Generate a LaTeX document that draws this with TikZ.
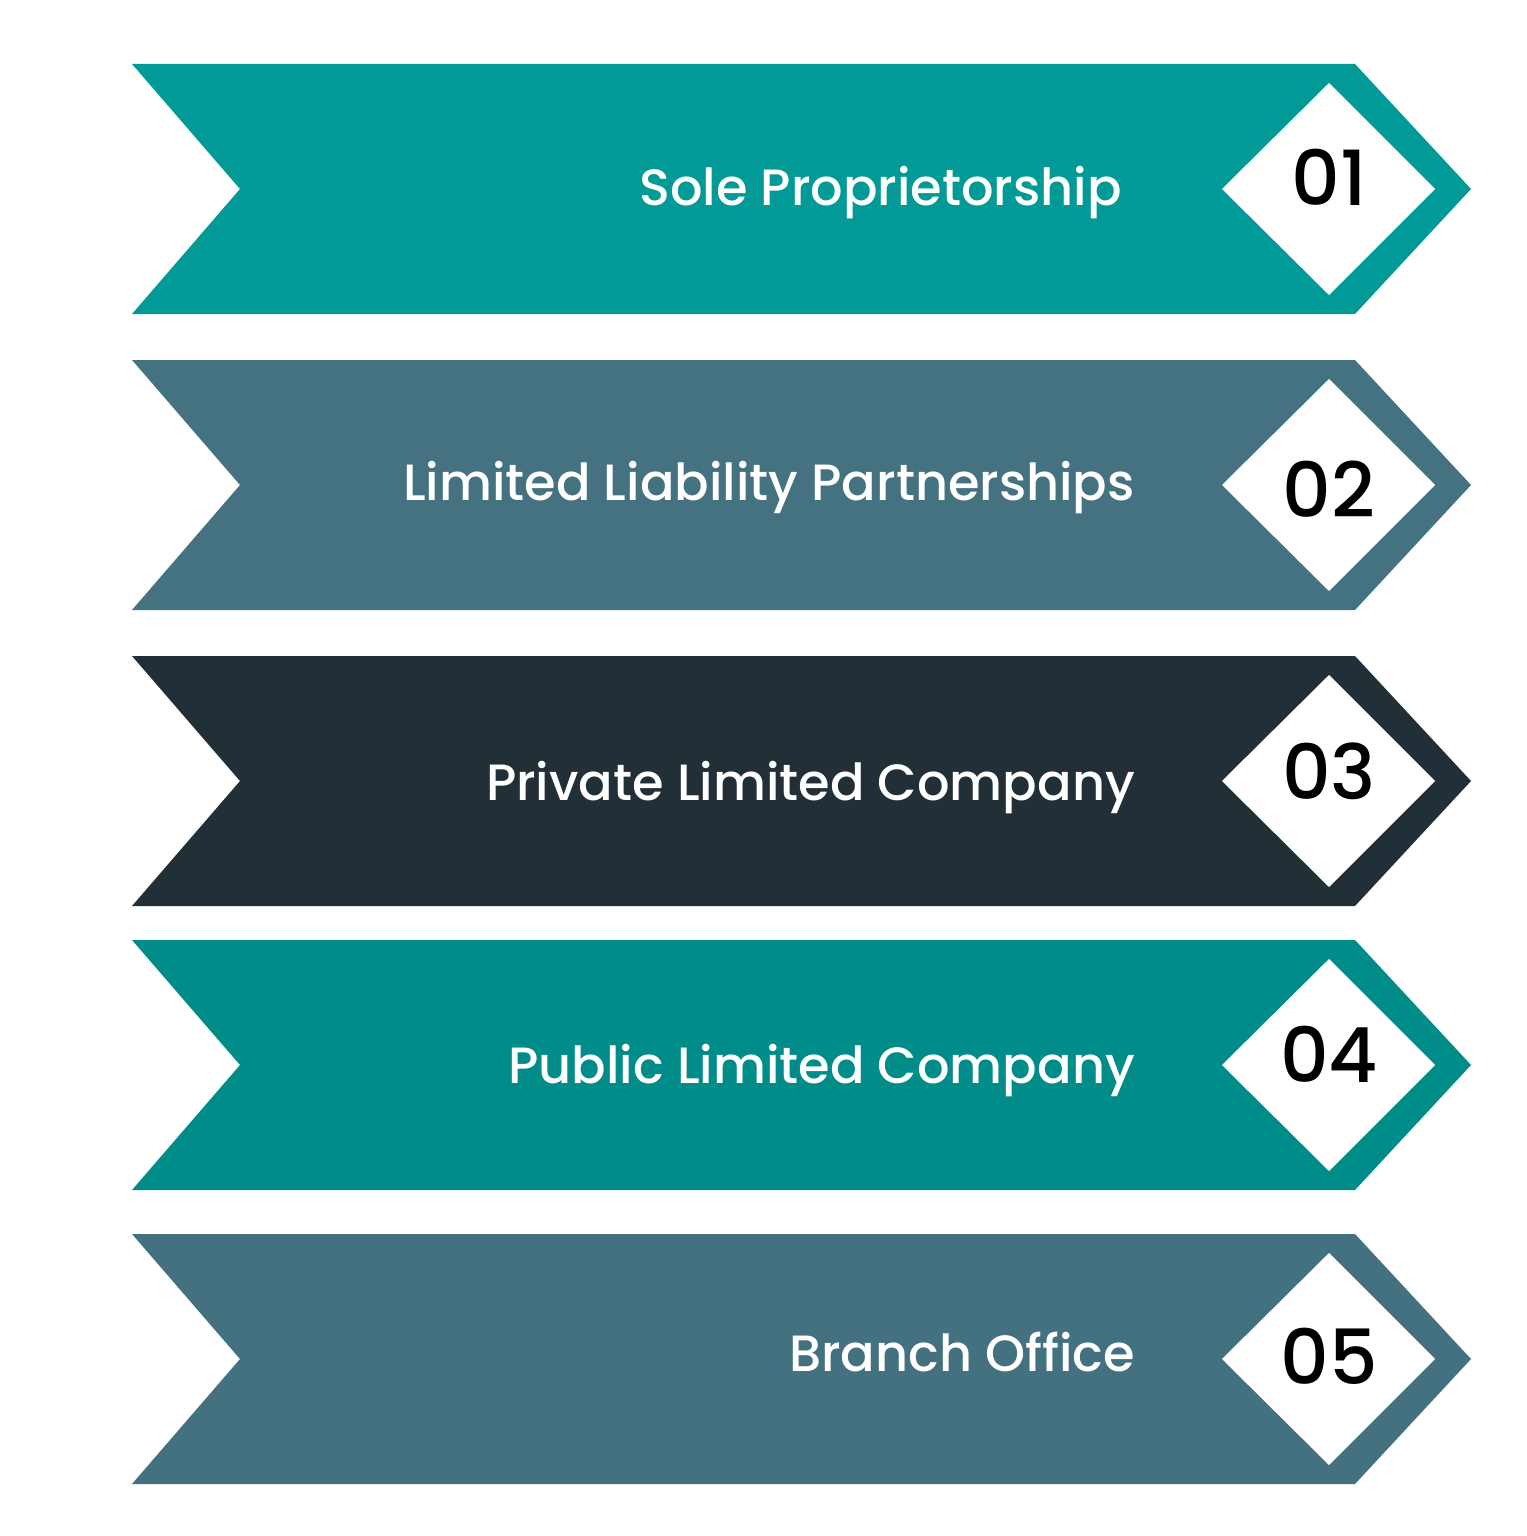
\documentclass[tikz,border=0pt]{standalone}
\usepackage{fontspec}
\setmainfont{Poppins}
\newfontfamily\medfont{Poppins Medium}
\definecolor{cA}{HTML}{029A96}
\definecolor{cB}{HTML}{457280}
\definecolor{cC}{HTML}{222F36}
\definecolor{cD}{HTML}{008C88}
\definecolor{cE}{HTML}{43717F}
\tikzset{
  label/.style={anchor=base east, text=white, font=\medfont\fontsize{51}{58}\selectfont, inner sep=0pt},
  num/.style={anchor=base, text=black, font=\medfont\fontsize{76}{80}\selectfont, inner sep=0pt},
}
\newcommand{\band}[2]{%
  \fill[#2] (132,#1-125) -- (1355,#1-125) -- (1471,#1) -- (1355,#1+125) -- (132,#1+125) -- (240,#1) -- cycle;
  \fill[white] (1329,#1-106) -- (1435,#1) -- (1329,#1+106) -- (1222,#1) -- cycle;
}
\begin{document}
\begin{tikzpicture}[x=1pt,y=-1pt]
\useasboundingbox (0,0) rectangle (1526,1536);
\fill[white] (0,0) rectangle (1526,1536);
\band{189}{cA}
\band{485}{cB}
\band{781}{cC}
\band{1065}{cD}
\band{1359}{cE}
\node[label] (t1) at (1122,205) {Sole Proprietorship};
\node[label] (t2) at (1135,500) {Limited Liability Partnerships};
\node[label] (t3) at (1135,800) {Private Limited Company};
\node[label] (t4) at (1135,1083) {Public Limited Company};
\node[label] (t5) at (1135,1371) {Branch Office};
\node[num] (n1) at (1329,205) {01};
\node[num] (n2) at (1329,517) {02};
\node[num] (n3) at (1329,799) {03};
\node[num] (n4) at (1329,1082) {04};
\node[num] (n5) at (1329,1384) {05};
\end{tikzpicture}
\end{document}
